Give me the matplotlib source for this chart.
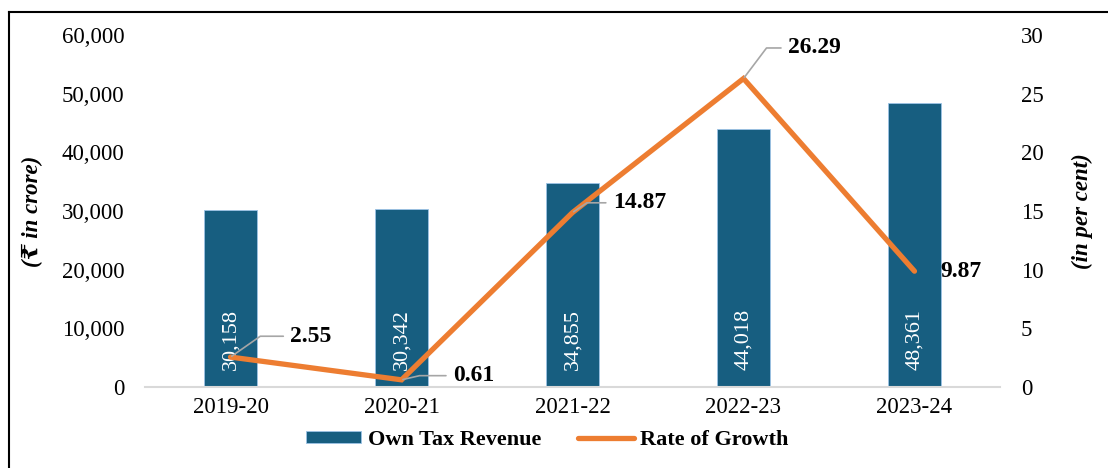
import numpy as np
import matplotlib.pyplot as plt
from matplotlib.lines import Line2D

# data
years = ['2019-20', '2020-21', '2021-22', '2022-23', '2023-24']
own_tax_revenue = [30158, 30342, 34855, 44018, 48361]
rate_of_growth = [2.55, 0.61, 14.87, 26.29, 9.87]

# label placement (offset points) and leader-line angle for the growth labels
label_offsets = [(43, 15), (37, 3), (29, 7), (32, 22), (19, 0)]
leader_angles = [35, 13, 34, 53, None]

plt.rcParams['font.family'] = ['Liberation Serif', 'DejaVu Serif']

bar_color = '#175E80'
line_color = '#ED7D31'

fig = plt.figure(figsize=(11.08, 4.68), dpi=100)
ax = fig.add_axes([0.1309, 0.1731, 0.7716, 0.7521])
ax2 = ax.twinx()

x = np.arange(len(years))
bars = ax.bar(x, own_tax_revenue, width=0.31, color=bar_color,
              edgecolor='#9DC3E6', linewidth=0.6, label='Own Tax Revenue', zorder=2)
ax.set_xlim(-0.5, len(years) - 0.5)
ax.set_ylim(0, 60000)
ax.set_yticks(np.arange(0, 60001, 10000))
ax.set_yticklabels([f'{v:,}' for v in range(0, 60001, 10000)])
ax.set_xticks(x)
ax.set_xticklabels(years)
ax.tick_params(axis='y', length=0, pad=15, labelsize=16.5)
ax.tick_params(axis='x', length=0, pad=7, labelsize=16.5)
for s in ['top', 'left', 'right']:
    ax.spines[s].set_visible(False)
ax.spines['bottom'].set_color('#D9D9D9')
ax.spines['bottom'].set_linewidth(1.5)
ax.set_ylabel('(₹ in crore)', fontsize=16.5, fontweight='bold', style='italic', labelpad=13)

# values inside the bars
for xi, v in zip(x, own_tax_revenue):
    ax.annotate(f'{v:,}', xy=(xi, 0), xytext=(0, 12), textcoords='offset points',
                rotation=90, ha='center', va='bottom', color='white', fontsize=16)

ln, = ax2.plot(x, rate_of_growth, color=line_color, lw=3.8,
               solid_capstyle='round', solid_joinstyle='miter', label='Rate of Growth', zorder=3)
ax2.set_ylim(0, 30)
ax2.set_yticks(np.arange(0, 31, 5))
ax2.tick_params(axis='y', length=0, pad=15, labelsize=16.5)
for s in ['top', 'left', 'right', 'bottom']:
    ax2.spines[s].set_visible(False)
ax2.set_ylabel('(in per cent)', fontsize=16.5, fontweight='bold', style='italic', labelpad=20)

for xi, v, off, ang in zip(x, rate_of_growth, label_offsets, leader_angles):
    arrow = None
    if ang is not None:
        arrow = dict(arrowstyle='-', color='#A6A6A6', lw=1.2, shrinkA=3, shrinkB=1,
                     connectionstyle=f'angle,angleA=0,angleB={ang},rad=0')
    ax2.annotate(f'{v:.2f}', xy=(xi, v), xytext=off, textcoords='offset points',
                 ha='left', va='center', fontsize=17, fontweight='bold',
                 arrowprops=arrow, zorder=4)

fig.legend(handles=[bars, ln], labels=['Own Tax Revenue', 'Rate of Growth'],
           loc='center', bbox_to_anchor=(0.494, 0.06), ncol=2, frameon=False,
           prop={'size': 16, 'weight': 'bold'}, handlelength=2.5, handleheight=0.5,
           handletextpad=0.3, columnspacing=1.65)

# outer frame (only top and left edges are visible in the original crop)
fig.add_artist(Line2D([9 / 1108, 9 / 1108], [0, 1 - 12 / 468], color='black', lw=1.5,
                      transform=fig.transFigure))
fig.add_artist(Line2D([9 / 1108, 1], [1 - 12 / 468, 1 - 12 / 468], color='black', lw=1.5,
                      transform=fig.transFigure))

fig.savefig('out.png', dpi=100)
